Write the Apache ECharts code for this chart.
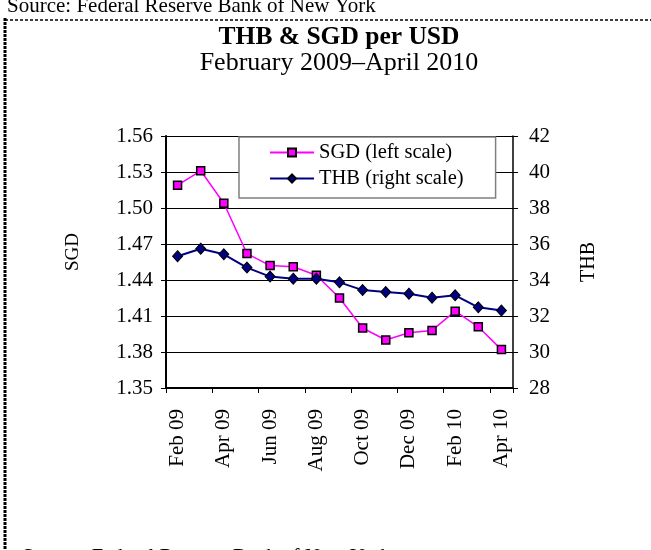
<!DOCTYPE html>
<html>
<head>
<meta charset="utf-8">
<title>THB &amp; SGD per USD</title>
<script src="https://cdn.jsdelivr.net/npm/echarts@6/dist/echarts.min.js"></script>
<style>
  html, body { margin: 0; padding: 0; background: #fff; }
  #chart { width: 651px; height: 550px; }
</style>
</head>
<body>
<div id="chart"></div>
<script>
// Monthly categories, February 2009 to April 2010
var months = ['Feb 09', 'Mar 09', 'Apr 09', 'May 09', 'Jun 09', 'Jul 09', 'Aug 09',
              'Sep 09', 'Oct 09', 'Nov 09', 'Dec 09', 'Jan 10', 'Feb 10', 'Mar 10', 'Apr 10'];

// Singapore dollars per US dollar (left scale)
var sgd = [1.519, 1.531, 1.504, 1.462, 1.452, 1.451, 1.444, 1.425,
           1.400, 1.390, 1.396, 1.398, 1.414, 1.401, 1.382];

// Thai baht per US dollar (right scale)
var thb = [35.32, 35.74, 35.43, 34.69, 34.19, 34.07, 34.07, 33.87,
           33.44, 33.33, 33.24, 33.02, 33.15, 32.48, 32.30];

var SERIF = '"Liberation Serif", "Times New Roman", serif';

var chart = echarts.init(document.getElementById('chart'), null, { renderer: 'canvas' });

chart.setOption({
  backgroundColor: '#ffffff',
  animation: false,
  textStyle: { fontFamily: SERIF, color: '#000' },
  grid: { left: 166, right: 138, top: 136, bottom: 162, containLabel: false },
  legend: {
    data: ['SGD (left scale)', 'THB (right scale)'],
    orient: 'vertical',
    left: 239,
    top: 137,
    padding: [5, 32, 9, 30],
    itemWidth: 44,
    itemHeight: 10,
    itemGap: 5,
    backgroundColor: '#ffffff',
    borderColor: '#808080',
    borderWidth: 1.5,
    borderRadius: 0,
    textStyle: { fontFamily: SERIF, fontSize: 20.5, color: '#000', lineHeight: 20 }
  },
  xAxis: {
    type: 'category',
    data: months,
    boundaryGap: true,
    axisLine: { lineStyle: { color: '#000', width: 2 } },
    axisTick: { show: true, interval: 1, length: 5, lineStyle: { color: '#000', width: 1 } },
    axisLabel: {
      interval: 1, rotate: 90, margin: 21,
      fontFamily: SERIF, fontSize: 21, color: '#000'
    },
    splitLine: { show: false }
  },
  yAxis: [
    {
      type: 'value',
      min: 1.35, max: 1.56, interval: 0.03,
      position: 'left',
      axisLine: { show: true, lineStyle: { color: '#000', width: 2 } },
      axisTick: { show: true, length: 5, lineStyle: { color: '#000', width: 1 } },
      axisLabel: {
        margin: 13, fontFamily: SERIF, fontSize: 21, color: '#000',
        formatter: function (v) { return v.toFixed(2); }
      },
      splitLine: { show: true, lineStyle: { color: '#000', width: 1 } }
    },
    {
      type: 'value',
      min: 28, max: 42, interval: 2,
      position: 'right',
      axisLine: { show: true, lineStyle: { color: '#000', width: 1.5 } },
      axisTick: { show: true, length: 5, lineStyle: { color: '#000', width: 1 } },
      axisLabel: { margin: 16, fontFamily: SERIF, fontSize: 21, color: '#000' },
      splitLine: { show: false }
    }
  ],
  series: [
    {
      name: 'SGD (left scale)',
      type: 'line',
      yAxisIndex: 0,
      data: sgd,
      symbol: 'rect',
      symbolSize: 8,
      showAllSymbol: true,
      lineStyle: { color: '#ff00ff', width: 1.5 },
      itemStyle: { color: '#ff00ff', borderColor: '#000', borderWidth: 1.5 }
    },
    {
      name: 'THB (right scale)',
      type: 'line',
      yAxisIndex: 1,
      data: thb,
      symbol: 'diamond',
      symbolSize: [10, 11],
      showAllSymbol: true,
      lineStyle: { color: '#000080', width: 2 },
      itemStyle: { color: '#000080', borderColor: '#000', borderWidth: 1 }
    }
  ],
  graphic: [
    // dashed frame along the top and left edges
    { type: 'line', shape: { x1: 5, y1: 20, x2: 651, y2: 20 },
      style: { stroke: '#000', lineWidth: 1.5, lineDash: [3, 2] }, silent: true },
    { type: 'line', shape: { x1: 5, y1: 18, x2: 5, y2: 550 },
      style: { stroke: '#000', lineWidth: 3, lineDash: [3, 1] }, silent: true },
    { type: 'text', x: 7, y: 6,
      style: { text: 'Source: Federal Reserve Bank of New York', fontFamily: SERIF,
               fontSize: 21, fill: '#000', align: 'left', verticalAlign: 'middle' } },
    { type: 'text', x: 22, y: 557,
      style: { text: 'Source: Federal Reserve Bank of New York', fontFamily: SERIF,
               fontSize: 21, fill: '#000', align: 'left', verticalAlign: 'middle' } },
    // chart title and date range
    { type: 'text', x: 339, y: 37,
      style: { text: 'THB & SGD per USD', fontFamily: SERIF, fontWeight: 'bold',
               fontSize: 25.5, fill: '#000', align: 'center', verticalAlign: 'middle' } },
    { type: 'text', x: 339, y: 63,
      style: { text: 'February 2009\u2013April 2010', fontFamily: SERIF,
               fontSize: 26, fill: '#000', align: 'center', verticalAlign: 'middle' } },
    // axis titles
    { type: 'text', x: 73, y: 252, rotation: Math.PI / 2,
      style: { text: 'SGD', fontFamily: SERIF, fontSize: 19, fill: '#000',
               align: 'center', verticalAlign: 'middle' } },
    { type: 'text', x: 589, y: 262, rotation: Math.PI / 2,
      style: { text: 'THB', fontFamily: SERIF, fontSize: 20, fill: '#000',
               align: 'center', verticalAlign: 'middle' } }
  ]
});
</script>
</body>
</html>
